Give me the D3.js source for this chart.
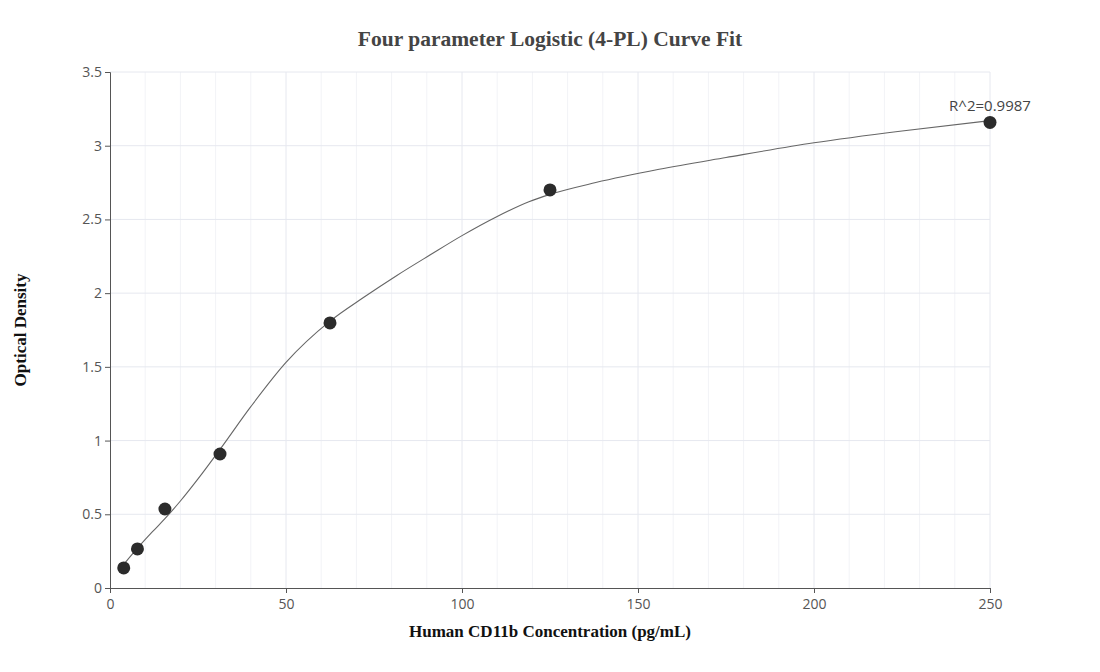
<!DOCTYPE html>
<html>
<head>
<meta charset="utf-8">
<script src="https://cdn.jsdelivr.net/npm/d3@7"></script>
<style>
  body { margin: 0; background: #fff; }
  svg { display: block; }
</style>
</head>
<body>
<div id="chart"></div>
<script>
// standard points (concentration, OD)
const concentrations = [3.9, 7.8, 15.6, 31.25, 62.5, 125, 250];
const odValues = [0.136, 0.265, 0.536, 0.909, 1.798, 2.70, 3.158];

// fitted curve
const curveX = [3.9, 7.8, 12, 15.6, 20, 25, 31.25, 40, 50, 62.5, 72, 81.5, 91, 100, 110, 119, 125, 138, 156, 175, 200, 225, 250];
const curveY = [0.16, 0.27, 0.38, 0.47, 0.59, 0.74, 0.94, 1.23, 1.53, 1.81, 1.97, 2.12, 2.26, 2.39, 2.52, 2.62, 2.67, 2.75, 2.84, 2.92, 3.02, 3.10, 3.17];

const xTicks = [0, 50, 100, 150, 200, 250];
const yTicks = [0, 0.5, 1, 1.5, 2, 2.5, 3, 3.5];
const r2Label = "R^2=0.9987";

const width = 1100, height = 672;
const margin = { top: 72, right: 110, bottom: 84, left: 110 };
const innerW = width - margin.left - margin.right,
      innerH = height - margin.top - margin.bottom;

const svg = d3.select("#chart").append("svg")
    .attr("width", width)
    .attr("height", height);

const g = svg.append("g")
    .attr("transform", `translate(${margin.left},${margin.top})`);

const x = d3.scaleLinear().domain([0, 250]).range([0, innerW]);
const y = d3.scaleLinear().domain([0, 3.5]).range([innerH, 0]);

// minor x grid every 10
g.append("g")
  .selectAll("line")
  .data(d3.range(10, 250, 10).filter(v => v % 50 !== 0))
  .join("line")
    .attr("x1", d => x(d)).attr("x2", d => x(d))
    .attr("y1", 0).attr("y2", innerH)
    .attr("stroke", "#f2f3f7").attr("stroke-width", 1);

// major grid
g.append("g")
  .selectAll("line")
  .data(xTicks.slice(1))
  .join("line")
    .attr("x1", d => x(d)).attr("x2", d => x(d))
    .attr("y1", 0).attr("y2", innerH)
    .attr("stroke", "#e6e8ef").attr("stroke-width", 1);

g.append("g")
  .selectAll("line")
  .data(yTicks.slice(1))
  .join("line")
    .attr("x1", 0).attr("x2", innerW)
    .attr("y1", d => y(d)).attr("y2", d => y(d))
    .attr("stroke", "#e6e8ef").attr("stroke-width", 1);

// axes
const xAxis = g.append("g")
    .attr("transform", `translate(0,${innerH})`)
    .call(d3.axisBottom(x).tickValues(xTicks).tickSize(5).tickPadding(3));
const yAxis = g.append("g")
    .call(d3.axisLeft(y).tickValues(yTicks).tickFormat(d3.format("")).tickSize(5).tickPadding(3));

[xAxis, yAxis].forEach(a => {
  a.select(".domain").attr("stroke", "#555").attr("stroke-width", 1);
  a.selectAll(".tick line").attr("stroke", "#555");
  a.selectAll(".tick text")
    .attr("fill", "#555")
    .style("font-family", "'Open Sans', sans-serif")
    .style("font-size", "14px");
});
xAxis.selectAll(".tick text").attr("dy", "0.95em");

// fitted curve
const line = d3.line()
    .x((d, i) => x(curveX[i]))
    .y(d => y(d))
    .curve(d3.curveMonotoneX);

g.append("path")
  .datum(curveY)
  .attr("fill", "none")
  .attr("stroke", "#666")
  .attr("stroke-width", 1.1)
  .attr("d", line);

// points
g.append("g")
  .selectAll("circle")
  .data(concentrations)
  .join("circle")
    .attr("cx", d => x(d))
    .attr("cy", (d, i) => y(odValues[i]))
    .attr("r", 6.5)
    .attr("fill", "#2b2b2b");

// R^2 label near last point
g.append("text")
  .attr("x", x(concentrations[concentrations.length - 1]))
  .attr("y", y(odValues[odValues.length - 1]) - 11)
  .attr("text-anchor", "middle")
  .attr("fill", "#444")
  .style("font-family", "'Open Sans', sans-serif")
  .style("font-size", "15px")
  .text(r2Label);

// titles
svg.append("text")
  .attr("x", 550).attr("y", 46)
  .attr("text-anchor", "middle")
  .attr("fill", "#444")
  .style("font-family", "'Liberation Serif', 'Times New Roman', serif")
  .style("font-weight", "bold")
  .style("font-size", "21.5px")
  .text("Four parameter Logistic (4-PL) Curve Fit");

svg.append("text")
  .attr("x", 550).attr("y", 637)
  .attr("text-anchor", "middle")
  .attr("fill", "#111")
  .style("font-family", "'Liberation Serif', 'Times New Roman', serif")
  .style("font-weight", "bold")
  .style("font-size", "17px")
  .text("Human CD11b Concentration (pg/mL)");

svg.append("text")
  .attr("transform", "translate(26,330) rotate(-90)")
  .attr("text-anchor", "middle")
  .attr("fill", "#111")
  .style("font-family", "'Liberation Serif', 'Times New Roman', serif")
  .style("font-weight", "bold")
  .style("font-size", "17px")
  .text("Optical Density");
</script>
</body>
</html>
